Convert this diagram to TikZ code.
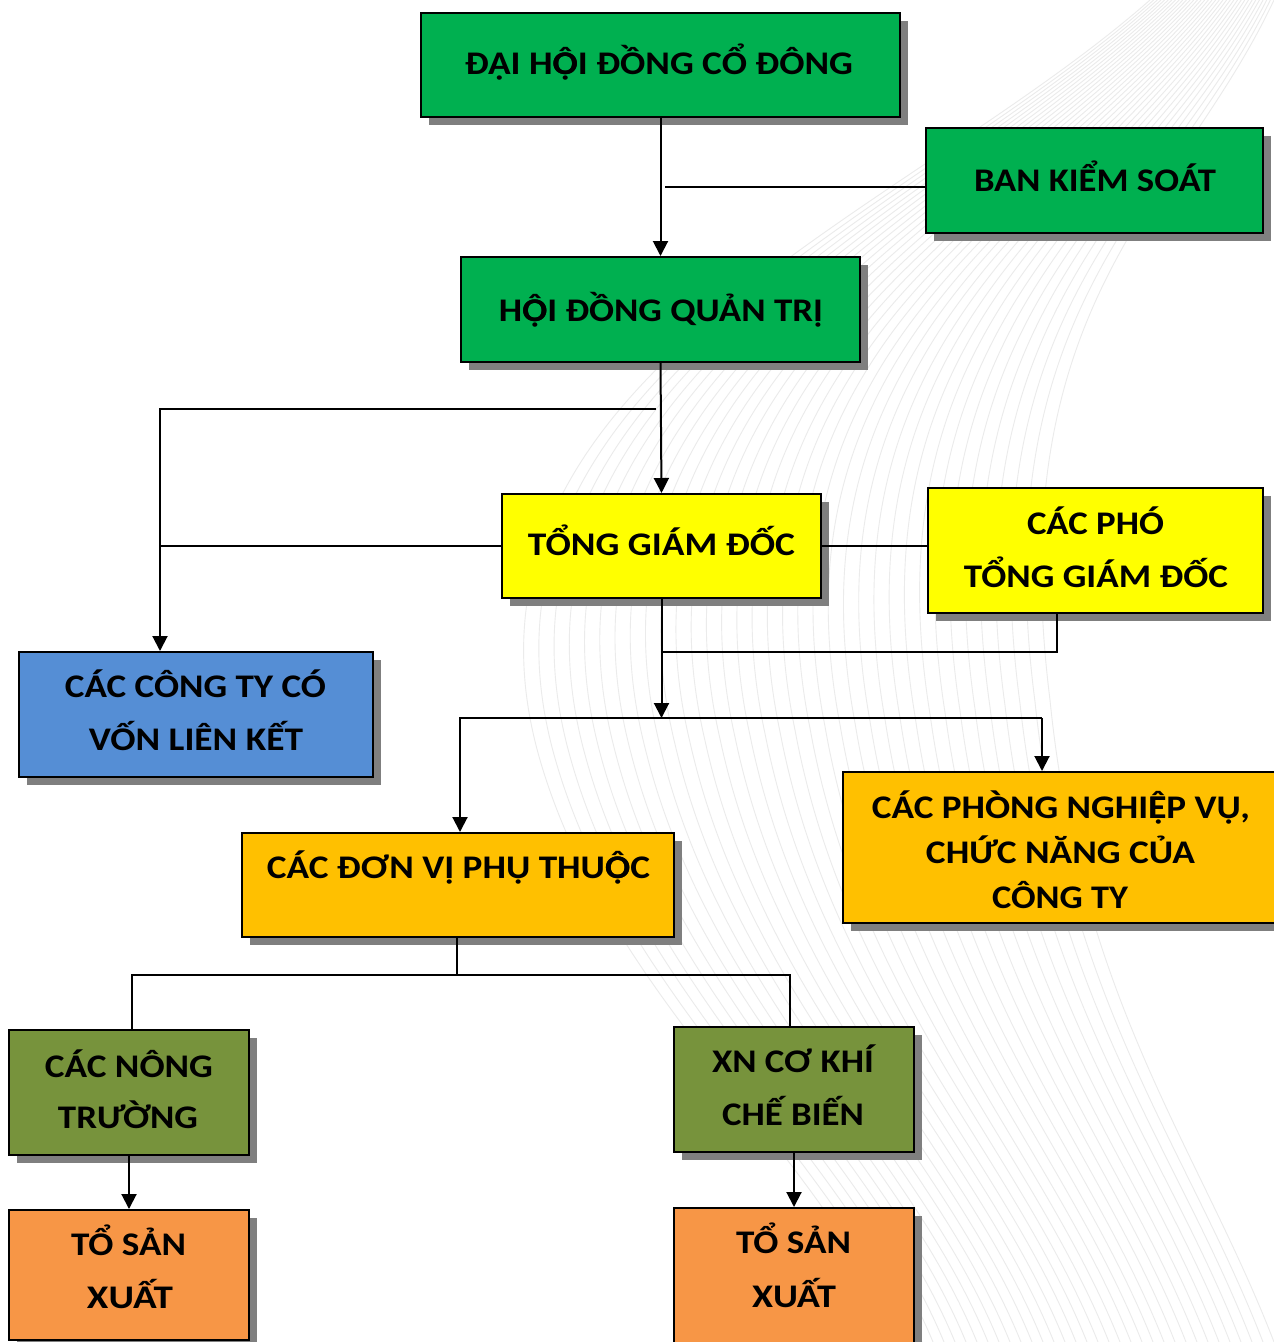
\documentclass[tikz,border=0pt]{standalone}
\usepackage{fontspec}
\setmainfont{Carlito}
\usepackage{graphicx}
\usetikzlibrary{arrows.meta,shadows,calc}
\definecolor{cgreen}{HTML}{00B050}
\definecolor{cblue}{HTML}{558ED5}
\definecolor{cyellow}{HTML}{FFFF00}
\definecolor{camber}{HTML}{FFC000}
\definecolor{colive}{HTML}{77933C}
\definecolor{corange}{HTML}{F79646}
\definecolor{cshadow}{HTML}{7F7F7F}
\definecolor{cswirl}{HTML}{EBEBEB}
\tikzset{
  box/.style={draw=black, line width=2pt, inner sep=0pt, rectangle,
    drop shadow={shadow xshift=8pt, shadow yshift=-8pt, fill=cshadow, opacity=1}},
  conn/.style={line width=2pt, draw=black},
  arr/.style={conn, -{Triangle[width=15pt,length=15pt]}},
  txt/.style={anchor=base, inner sep=0pt, font=\bfseries\fontsize{33}{40}\selectfont},
  swirl/.style={draw=cswirl, line width=0.9pt},
}
\newcommand\Ocd{\ooalign{Ô\cr Ọ}}
\newcommand\Ecd{\ooalign{Ê\cr Ẹ}}
\newcommand\bx[6]{\node[box, fill=#6, minimum width={#4-#2}, minimum height={#5-#3}] (#1) at ({(#2+#4)/2},{(#3+#5)/2}) {};}
\newcommand\tl[5]{\node[txt] (#1) at (#2,#3) {\resizebox{#4pt}{\height}{#5}};}
\begin{document}
\begin{tikzpicture}[x=1pt,y=-1pt]
\useasboundingbox[fill=white] (0,0) rectangle (1274,1342);
% faint background ribbon
\coordinate (L1) at (1150,0);
\coordinate (L2) at (900,220);
\coordinate (L3) at (430,380);
\coordinate (L4) at (540,760);
\coordinate (L5) at (610,1000);
\coordinate (L6) at (820,1150);
\coordinate (L7) at (900,1342);
\coordinate (R1) at (1274,0);
\coordinate (R2) at (1180,200);
\coordinate (R3) at (1000,300);
\coordinate (R4) at (1050,700);
\coordinate (R5) at (1080,1000);
\coordinate (R6) at (1200,1150);
\coordinate (R7) at (1274,1342);
\begin{scope}
\clip (0,0) rectangle (1274,1342);
\foreach \k in {0,...,34}{
  \pgfmathsetmacro\t{\k/34}
  \draw[swirl] ($(L1)!\t!(R1)$) .. controls ($(L2)!\t!(R2)$) and ($(L3)!\t!(R3)$) .. ($(L4)!\t!(R4)$)
     .. controls ($(L5)!\t!(R5)$) and ($(L6)!\t!(R6)$) .. ($(L7)!\t!(R7)$);
}
\end{scope}
% boxes
\bx{dh}{421}{13}{900}{117}{cgreen}
\bx{bks}{926}{128}{1263}{233}{cgreen}
\bx{hd}{461}{257}{860}{362}{cgreen}
\bx{tgd}{502}{494}{821}{598}{cyellow}
\bx{pho}{928}{488}{1263}{613}{cyellow}
\bx{ct}{19}{652}{373}{777}{cblue}
\bx{ph}{843}{772}{1284}{923}{camber}
\bx{dv}{242}{833}{674}{937}{camber}
\bx{nt}{9}{1030}{249}{1155}{colive}
\bx{xn}{674}{1027}{914}{1152}{colive}
\bx{ts1}{9}{1210}{249}{1340}{corange}
\bx{ts2}{674}{1208}{914}{1352}{corange}
% texts
\tl{tdh}{659}{74}{388}{ĐẠI H\Ocd I ĐỒNG CỔ ĐÔNG}
\tl{tbks}{1095}{191}{242}{BAN KIỂM SOÁT}
\tl{thd}{661}{321}{324}{H\Ocd I ĐỒNG QUẢN TRỊ}
\tl{ttgd}{661.5}{555}{267}{TỔNG GIÁM ĐỐC}
\tl{tpho1}{1095.5}{534}{137}{CÁC PHÓ}
\tl{tpho2}{1096}{587}{264}{TỔNG GIÁM ĐỐC}
\tl{tct1}{195.5}{697}{261}{CÁC CÔNG TY CÓ}
\tl{tct2}{196}{750}{214}{VỐN LIÊN KẾT}
\tl{tph1}{1061}{818}{378}{CÁC PHÒNG NGHI\Ecd P VỤ,}
\tl{tph2}{1060.5}{863}{269}{CHỨC NĂNG CỦA}
\tl{tph3}{1060}{908}{136}{CÔNG TY}
\tl{tdv}{458.5}{878}{383}{CÁC ĐƠN VỊ PHỤ THU\Ocd C}
\tl{tnt1}{129}{1077}{168}{CÁC NÔNG}
\tl{tnt2}{128}{1128}{140}{TRƯỜNG}
\tl{txn1}{793}{1072}{162}{XN CƠ KHÍ}
\tl{txn2}{793}{1125}{142}{CHẾ BIẾN}
\tl{tts11}{128.5}{1255}{115}{TỔ SẢN}
\tl{tts12}{130}{1308}{86}{XUẤT}
\tl{tts21}{793.5}{1253}{115}{TỔ SẢN}
\tl{tts22}{794}{1307}{84}{XUẤT}
% junction coordinates
\coordinate (j1) at (665,187);
\coordinate (j2a) at (656,409);
\coordinate (j2b) at (160,409);
\coordinate (j4) at (1057,652);
\coordinate (j5l) at (460,718);
\coordinate (j5r) at (1042,718);
\coordinate (j6) at (457,975);
\coordinate (j6l) at (132,975);
\coordinate (j6r) at (790,975);
% connectors
\draw[arr] (dh.south) -- (hd.north);
\draw[conn] (bks.west |- j1) -- (j1);
\draw[arr] (hd.south) -- (tgd.north);
\draw[arr] (j2a) -- (j2b) -- (j2b |- ct.north);
\draw[conn] (tgd.west) -- (tgd.west -| j2b);
\draw[conn] (tgd.east) -- (pho.west |- tgd.east);
\draw[arr] (tgd.south) -- (tgd.south |- j5l);
\draw[conn] (pho.south -| j4) -- (j4) -- (j4 -| tgd.south);
\draw[arr] (j5r) -- (j5l) -- (j5l |- dv.north);
\draw[arr] (j5r) -- (j5r |- ph.north);
\draw[conn] (dv.south -| j6) -- (j6);
\draw[conn] (j6l |- nt.north) -- (j6l) -- (j6r) -- (j6r |- xn.north);
\draw[arr] (nt.south) -- (ts1.north);
\draw[arr] (xn.south) -- (ts2.north);
\end{tikzpicture}
\end{document}
